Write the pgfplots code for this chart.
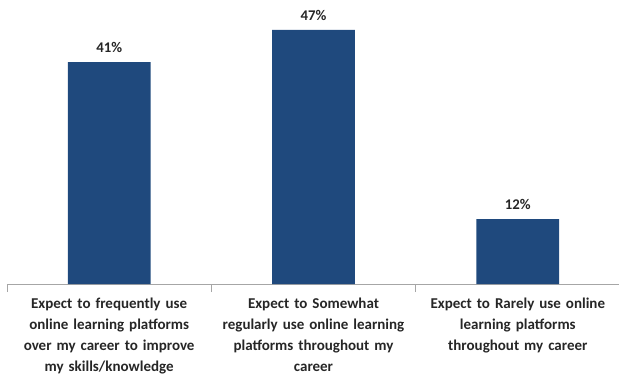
\documentclass[border=0pt]{standalone}
\usepackage{pgfplots}
\pgfplotsset{compat=1.18}
\usepackage{fontspec}
\setmainfont{Carlito}
\definecolor{barblue}{RGB}{31,73,125}
\definecolor{txt}{RGB}{38,38,38}
\begin{document}
\begin{tikzpicture}
\useasboundingbox (-7pt,-94pt) rectangle (612pt,284pt);
\begin{axis}[
  scale only axis,
  width=613pt, height=284pt,
  xmin=-0.5, xmax=2.5, ymin=0, ymax=52.5,
  axis y line=none,
  axis x line*=bottom,
  x axis line style={draw=gray!70, line width=0.8pt},
  xtick={0,1,2},
  xticklabels={{Expect to frequently use\\online learning platforms\\over my career to improve\\my skills/knowledge},
               {Expect to Somewhat\\regularly use online learning\\platforms throughout my\\career},
               {Expect to Rarely use online\\learning platforms\\throughout my career}},
  major tick length=0pt,
  extra x ticks={-0.5,0.5,1.5,2.5},
  extra x tick labels={},
  extra tick style={major tick length=8pt, tick align=outside, tick style={draw=gray!70, line width=0.8pt}},
  xticklabel style={align=center, text width=205pt, font=\fontsize{15}{21}\selectfont\bfseries, text=txt, yshift=-10pt},
  ybar, bar width=0.405,
  /pgf/number format/assume math mode=true,
  nodes near coords={\pgfmathprintnumber{\pgfplotspointmeta}\%},
  nodes near coords style={font=\fontsize{14.8}{16}\selectfont\bfseries, text=txt, yshift=6pt},
  clip=false,
]
\addplot[fill=barblue, draw=none] coordinates {(0,41) (1,47) (2,12)};
\end{axis}
\end{tikzpicture}
\end{document}
